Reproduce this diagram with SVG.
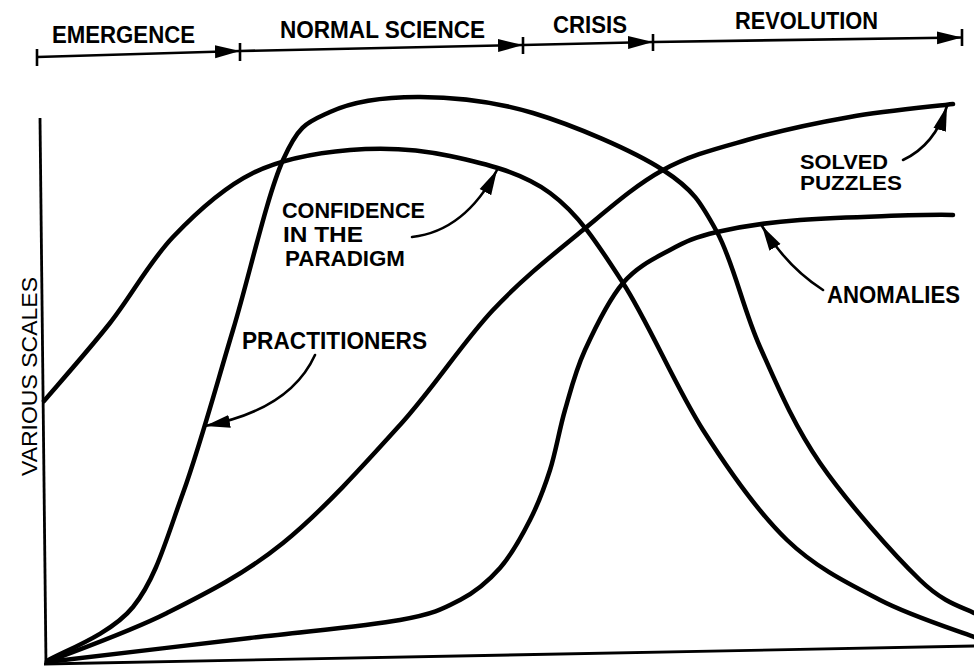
<svg xmlns="http://www.w3.org/2000/svg" width="974" height="666" viewBox="0 0 974 666">
<style>
text{font-family:"Liberation Sans",Arial,sans-serif;font-weight:bold;font-size:23px;fill:#000}
.lbl{font-size:22px}
.sm{font-size:20px}
.curve{fill:none;stroke:#000;stroke-width:4.5;stroke-linecap:round;stroke-linejoin:round}
.axis{fill:none;stroke:#000;stroke-width:2.8;stroke-linecap:butt}
.bar{fill:none;stroke:#000;stroke-width:2.6}
.tick{stroke:#000;stroke-width:2.6}
.lead{fill:none;stroke:#000;stroke-width:2.6;stroke-linecap:round}
</style>
<defs>
<marker id="ah" markerUnits="userSpaceOnUse" markerWidth="28" markerHeight="16" refX="25" refY="7" orient="auto">
<path d="M0,0.5 L25,7 L0,13.5 Z" fill="#000"/>
</marker>
</defs>
<rect width="974" height="666" fill="#fff"/>

<g id="timeline">
<line class="tick" x1="37" y1="49" x2="37" y2="66"/>
<line class="tick" x1="240" y1="43" x2="240" y2="61"/>
<line class="tick" x1="523" y1="37" x2="523" y2="54"/>
<line class="tick" x1="653" y1="34" x2="653" y2="51"/>
<line class="tick" x1="962" y1="29" x2="962" y2="46"/>
<line class="bar" x1="37" y1="57" x2="240" y2="51" marker-end="url(#ah)"/>
<line class="bar" x1="240" y1="51" x2="523" y2="45" marker-end="url(#ah)"/>
<line class="bar" x1="523" y1="45" x2="653" y2="42" marker-end="url(#ah)"/>
<line class="bar" x1="653" y1="42" x2="962" y2="37.5" marker-end="url(#ah)"/>
<text x="52" y="43" textLength="143" lengthAdjust="spacingAndGlyphs">EMERGENCE</text>
<text x="280" y="38" textLength="205" lengthAdjust="spacingAndGlyphs">NORMAL SCIENCE</text>
<text x="553" y="33" textLength="74" lengthAdjust="spacingAndGlyphs">CRISIS</text>
<text x="735" y="29" textLength="143" lengthAdjust="spacingAndGlyphs">REVOLUTION</text>
</g>

<g id="axes">
<line class="axis" x1="40" y1="118" x2="46" y2="664"/>
<line class="axis" x1="44" y1="664" x2="974" y2="646"/>
<text transform="translate(37,476) rotate(-90)" textLength="199" lengthAdjust="spacingAndGlyphs" style="font-weight:normal;font-size:22px">VARIOUS SCALES</text>
</g>

<g id="connectors">
<path id="confidence" class="curve" d="M44,401 C55,388 88.5,350.3 110,323 C131.5,295.7 149.2,262 173,237 C196.8,212 223.5,187.5 253,173 C282.5,158.5 317.2,152.8 350,150 C382.8,147.2 416.7,148.8 450,156 C483.3,163.2 521.2,171.8 550,193 C578.8,214.2 597.5,243.5 623,283 C648.5,322.5 675.7,387.2 703,430 C730.3,472.8 757.5,511.7 787,540 C816.5,568.3 848.8,583.8 880,600 C911.2,616.2 958.3,630.8 974,637"/>
<path id="practitioners" class="curve" d="M47,661 C61.3,652 110.3,635 133,607 C155.7,579 166.3,539.2 183,493 C199.7,446.8 216.3,385.5 233,330 C249.7,274.5 266.8,196.3 283,160 C299.2,123.7 307.2,122.5 330,112 C352.8,101.5 386.2,96.8 420,97 C453.8,97.2 492.5,100.8 533,113 C573.5,125.2 632.3,150.2 663,170 C693.7,189.8 700.8,202.5 717,232 C733.2,261.5 742.8,308.5 760,347 C777.2,385.5 793.3,424.2 820,463 C846.7,501.8 894.3,555 920,580 C945.7,605 965,607.5 974,613"/>
<path id="solved" class="curve" d="M47,662 C67,653.8 127.7,632.8 167,613 C206.3,593.2 244.2,574.3 283,543 C321.8,511.7 365,463.8 400,425 C435,386.2 462.5,342.5 493,310 C523.5,277.5 554.7,253.3 583,230 C611.3,206.7 635.7,185 663,170 C690.3,155 715.8,148.8 747,140 C778.2,131.2 815.7,123 850,117 C884.3,111 935.8,106.2 953,104"/>
<path id="anomalies" class="curve" d="M47,662 C80.8,658 191.2,645 250,638 C308.8,631 365,626.3 400,620 C435,613.7 443.3,608.7 460,600 C476.7,591.3 488.3,581.3 500,568 C511.7,554.7 521.7,536.3 530,520 C538.3,503.7 544.2,488.3 550,470 C555.8,451.7 559.2,430 565,410 C570.8,390 575.3,371.2 585,350 C594.7,328.8 608.8,299.7 623,283 C637.2,266.3 654.3,258.5 670,250 C685.7,241.5 695.3,237 717,232 C738.7,227 760.7,222.8 800,220 C839.3,217.2 927.5,214.2 953,215"/>
<path class="lead" d="M412,237 Q465,231 497,170" marker-end="url(#ah)"/>
<path class="lead" d="M315,355 Q290,410 205,426" marker-end="url(#ah)"/>
<path class="lead" d="M903,160 Q935,145 947,106" marker-end="url(#ah)"/>
<path class="lead" d="M823,290 Q787,267 762,226" marker-end="url(#ah)"/>
</g>

<g id="label-confidence">
<text class="lbl" x="282" y="218" textLength="143" lengthAdjust="spacingAndGlyphs">CONFIDENCE</text>
<text class="lbl" x="283" y="242" textLength="80" lengthAdjust="spacingAndGlyphs">IN THE</text>
<text class="lbl" x="285" y="266" textLength="120" lengthAdjust="spacingAndGlyphs">PARADIGM</text>
</g>
<g id="label-practitioners">
<text x="242" y="349" textLength="185" lengthAdjust="spacingAndGlyphs">PRACTITIONERS</text>
</g>
<g id="label-solved">
<text class="sm" x="800" y="169" textLength="88" lengthAdjust="spacingAndGlyphs">SOLVED</text>
<text class="sm" x="800" y="190" textLength="102" lengthAdjust="spacingAndGlyphs">PUZZLES</text>
</g>
<g id="label-anomalies">
<text x="827" y="303" textLength="133" lengthAdjust="spacingAndGlyphs">ANOMALIES</text>
</g>
</svg>
